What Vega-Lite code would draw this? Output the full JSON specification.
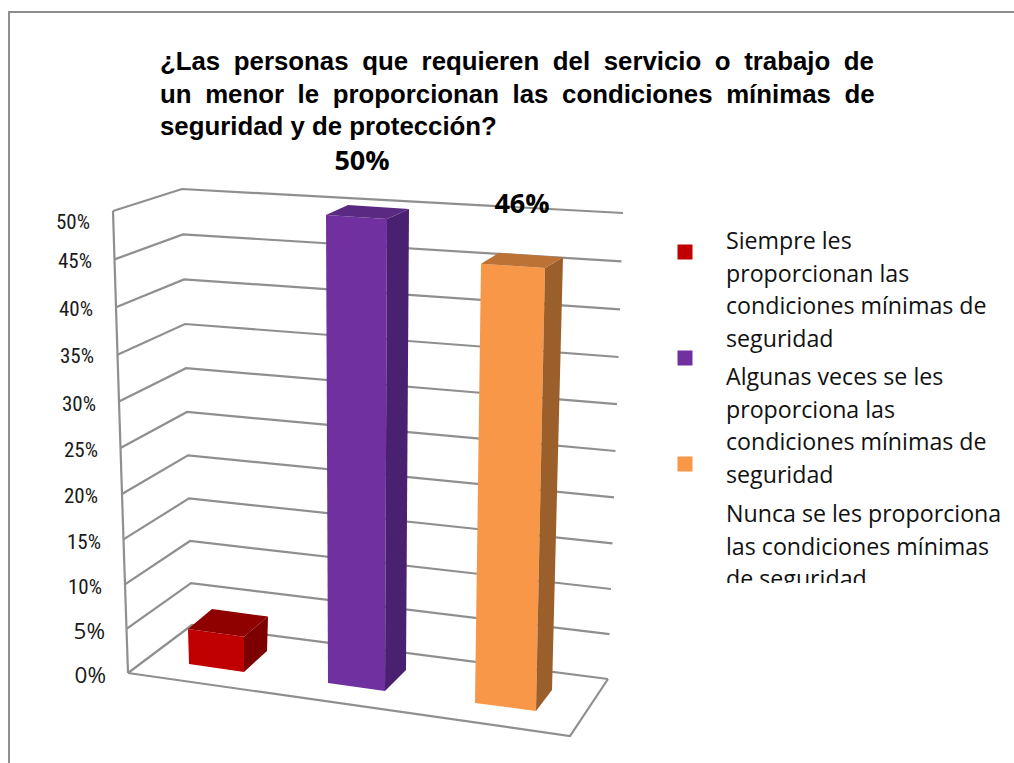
{
"$schema":"https://vega.github.io/schema/vega-lite/v6.json",
"width":1014,"height":763,"padding":0,"autosize":"none","background":"white",
"config":{"view":{"stroke":null}},
"title":{"text":["¿Las \u2005personas \u2005que \u2005requieren \u2005del \u2005servicio \u2005o \u2005trabajo \u2005de","un \u2005menor \u2005le \u2005proporcionan \u2005las \u2005condiciones \u2005mínimas \u2005de","seguridad y de protección?"],"anchor":"start","frame":"group","align":"left","baseline":"top","dx":160,"dy":141,"offset":0,"font":"Liberation Sans","fontWeight":"bold","fontSize":25.8,"lineHeight":32.6,"color":"#000000"},
"datasets":{
"barras":[
{"categoria":"Siempre les\nproporcionan las\ncondiciones mínimas de\nseguridad","valor":4},
{"categoria":"Algunas veces se les\nproporciona las\ncondiciones mínimas de\nseguridad","valor":50},
{"categoria":"Nunca se les proporciona\nlas condiciones mínimas\nde seguridad","valor":46}
],
"eje":[{"valor":0},{"valor":5},{"valor":10},{"valor":15},{"valor":20},{"valor":25},{"valor":30},{"valor":35},{"valor":40},{"valor":45},{"valor":50}]
},
"layer":[
{"data":{"values":[{"marco":1}]},"mark":{"type":"rect","fill":"white","stroke":"#8f8f8f","strokeWidth":2},"encoding":{"x":{"value":9},"x2":{"value":1040},"y":{"value":12},"y2":{"value":800}}},
{"data":{"name":"eje"},
 "transform":[{"calculate":"[0,1,2]","as":"k"},{"flatten":["k"]},
  {"calculate":"datum.k==0?128-0.3*datum.valor:datum.k==1?192-0.2*datum.valor:608+0.3*datum.valor","as":"px"},
  {"calculate":"datum.k==0?673-8.76*datum.valor-0.0096*datum.valor*datum.valor:datum.k==1?625-8.32*datum.valor-0.008*datum.valor*datum.valor:679-8.92*datum.valor-0.008*datum.valor*datum.valor","as":"py"}],
 "mark":{"type":"line","stroke":"#8f8f8f","strokeWidth":2.2,"strokeJoin":"miter"},
 "encoding":{"x":{"field":"px","type":"quantitative","scale":{"domain":[0,1014],"nice":false,"zero":false},"axis":null},"y":{"field":"py","type":"quantitative","scale":{"domain":[763,0],"nice":false,"zero":false},"axis":null},"detail":{"field":"valor"},"order":{"field":"k"}}},
{"data":{"name":"eje"},
 "transform":[{"calculate":"128-0.3*datum.valor","as":"px"},{"calculate":"673-8.76*datum.valor-0.0096*datum.valor*datum.valor","as":"py"}],
 "mark":{"type":"line","stroke":"#8f8f8f","strokeWidth":2.2},
 "encoding":{"x":{"field":"px","type":"quantitative","axis":null},"y":{"field":"py","type":"quantitative","axis":null},"order":{"field":"valor"}}},
{"data":{"name":"eje"},
 "transform":[{"filter":"datum.valor==0"},{"calculate":"[0,1,2]","as":"k"},{"flatten":["k"]},
  {"calculate":"[128,570,608][datum.k]","as":"px"},{"calculate":"[673,736,679][datum.k]","as":"py"}],
 "mark":{"type":"line","stroke":"#8f8f8f","strokeWidth":2.2,"strokeJoin":"miter"},
 "encoding":{"x":{"field":"px","type":"quantitative","axis":null},"y":{"field":"py","type":"quantitative","axis":null},"order":{"field":"k"}}},
{"data":{"name":"barras"},
 "transform":[
  {"calculate":"indexof(['Siempre','Algunas','Nunca'],split(datum.categoria,' ')[0])","as":"i"},
  {"calculate":"[[0,0,0,0,0],[0,1,1,0,0],[0,2,1,0,1],[0,3,0,0,1],[1,0,1,0,0],[1,1,1,1,0],[1,2,1,1,1],[1,3,1,0,1],[2,0,0,0,1],[2,1,1,0,1],[2,2,1,1,1],[2,3,0,1,1]]","as":"vs"},
  {"flatten":["vs"]},
  {"calculate":"datum.i+'-'+datum.vs[0]","as":"cara"},
  {"calculate":"datum.vs[1]","as":"orden"},
  {"calculate":"[189,328,475][datum.i]+datum.vs[2]*[55,57,61][datum.i]+datum.vs[4]*([-1,-2,6][datum.i]+datum.vs[2]*[1,4,3][datum.i])+datum.vs[3]*([23,21,16][datum.i]+datum.vs[4]*[1,1,2][datum.i])","as":"px"},
  {"calculate":"[664,683,703][datum.i]+datum.vs[2]*(8-datum.vs[4]*datum.valor*0.08)-datum.vs[4]*datum.valor*[8.75,9.36,9.55][datum.i]-datum.vs[3]*(21-11*datum.vs[4]*datum.valor/50)","as":"py"}
 ],
 "mark":{"type":"line","filled":true,"strokeWidth":0},
 "encoding":{"x":{"field":"px","type":"quantitative","axis":null},"y":{"field":"py","type":"quantitative","axis":null},
  "fill":{"field":"cara","type":"nominal","legend":null,"scale":{"domain":["0-0","0-1","0-2","1-0","1-1","1-2","2-0","2-1","2-2"],"range":["#C00000","#7D0000","#8F0000","#7030A0","#4A2070","#5A2A82","#F99748","#9B5F2C","#BD7235"]}},
  "detail":{"field":"cara"},"order":{"field":"orden"}}},
{"data":{"name":"eje"},"transform":[{"filter":"datum.valor>=10"},{"calculate":"datum.valor+'%'","as":"t"},{"calculate":"[106,105,102,101,98,98,96,94,93,92,90][datum.valor/5]","as":"px"},{"calculate":"[676,632,588,543,497,451,405,357,310,262,223][datum.valor/5]","as":"py"}],
 "mark":{"type":"text","align":"right","baseline":"middle","font":"'Roboto Condensed', Roboto, sans-serif","fontSize":21,"color":"#1a1a1a"},
 "encoding":{"x":{"field":"px","type":"quantitative","axis":null},"y":{"field":"py","type":"quantitative","axis":null},"text":{"field":"t"}}},
{"data":{"name":"eje"},"transform":[{"filter":"datum.valor<10"},{"calculate":"datum.valor+'%'","as":"t"},{"calculate":"[106,105][datum.valor/5]","as":"px"},{"calculate":"[676,632][datum.valor/5]","as":"py"}],
 "mark":{"type":"text","align":"right","baseline":"middle","font":"Open Sans","fontSize":22.5,"color":"#1a1a1a"},
 "encoding":{"x":{"field":"px","type":"quantitative","axis":null},"y":{"field":"py","type":"quantitative","axis":null},"text":{"field":"t"}}},
{"data":{"name":"barras"},"transform":[{"filter":"datum.valor>=10"},{"calculate":"indexof(['Siempre','Algunas','Nunca'],split(datum.categoria,' ')[0])","as":"i"},{"calculate":"datum.valor+'%'","as":"t"},{"calculate":"[189,328,475][datum.i]+[0,34,47][datum.i]","as":"px"},{"calculate":"[664,683,703][datum.i]-datum.valor*[8.75,9.36,9.55][datum.i]-[0,53,59][datum.i]","as":"py"}],
 "mark":{"type":"text","align":"center","baseline":"middle","font":"Open Sans","fontWeight":"bold","fontSize":27,"color":"#000000"},
 "encoding":{"x":{"field":"px","type":"quantitative","axis":null},"y":{"field":"py","type":"quantitative","axis":null},"text":{"field":"t"}}},
{"data":{"name":"barras"},"transform":[{"calculate":"indexof(['Siempre','Algunas','Nunca'],split(datum.categoria,' ')[0])","as":"i"},{"calculate":"685","as":"px"},{"calculate":"252+106*datum.i","as":"py"},{"calculate":"datum.i+'-0'","as":"cara"},{"calculate":"231+[0,136,273][datum.i]","as":"ty"}],
 "layer":[
  {"mark":{"type":"point","shape":"square","filled":true,"size":225,"opacity":1},
   "encoding":{"x":{"field":"px","type":"quantitative","axis":null},"y":{"field":"py","type":"quantitative","axis":null},"fill":{"field":"cara","type":"nominal","legend":null}}},
  {"mark":{"type":"text","align":"left","baseline":"top","dx":41,"font":"Open Sans","fontSize":23.2,"lineHeight":32.6,"lineBreak":"\n","color":"#111111"},
   "encoding":{"x":{"field":"px","type":"quantitative","axis":null},"y":{"field":"ty","type":"quantitative","axis":null},"text":{"field":"categoria"}}}
 ]},
{"data":{"values":[{"tapa":1}]},"mark":{"type":"rect","fill":"white"},"encoding":{"x":{"value":700},"x2":{"value":1014},"y":{"value":583},"y2":{"value":610}}}
]
}
